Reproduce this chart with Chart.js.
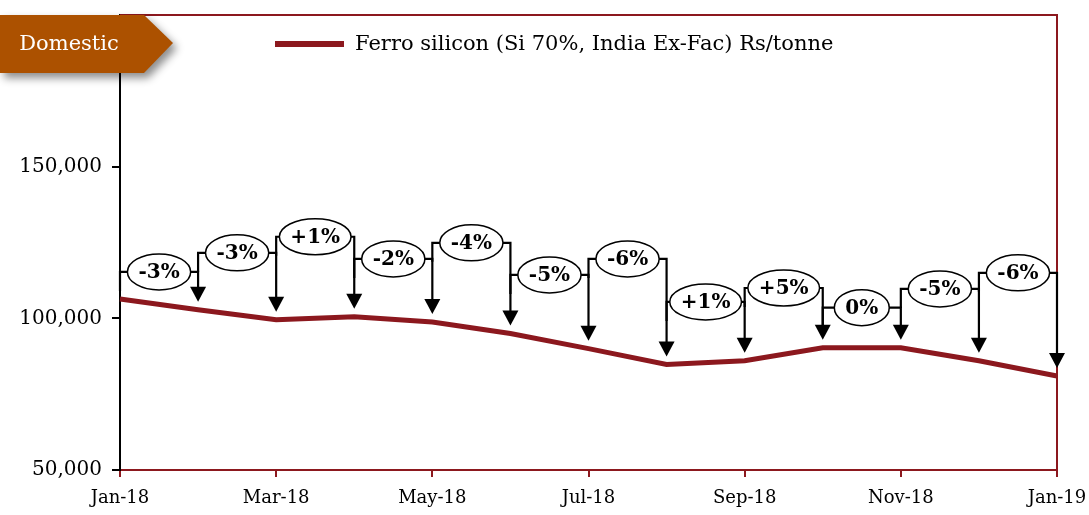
<!DOCTYPE html>
<html>
<head>
<meta charset="utf-8">
<script src="https://cdn.jsdelivr.net/npm/chart.js@4"></script>
<style>
  body { margin: 0; background: #fff; }
  #wrap { position: relative; width: 1089px; height: 515px; }
</style>
</head>
<body>
<div id="wrap"><canvas id="myChart" width="1089" height="515"></canvas></div>
<script>
// chart values
const months = ['Jan-18', 'Feb-18', 'Mar-18', 'Apr-18', 'May-18', 'Jun-18', 'Jul-18',
                'Aug-18', 'Sep-18', 'Oct-18', 'Nov-18', 'Dec-18', 'Jan-19'];
const prices = [106400, 102800, 99500, 100500, 98800, 95000, 90000,
                84800, 86000, 90300, 90300, 86000, 81000];
const changeLabels = ['-3%', '-3%', '+1%', '-2%', '-4%', '-5%', '-6%', '+1%', '+5%', '0%', '-5%', '-6%'];
// height (in Rs/tonne) of each bracket carrying the % change
const bracketLevels = [115300, 121600, 126900, 119600, 124900, 114300, 119600,
                       105400, 110000, 103500, 109700, 115000];
const yTicks = [50000, 100000, 150000];
const seriesName = 'Ferro silicon (Si 70%, India Ex-Fac) Rs/tonne';
const badgeText = 'Domestic';

const RED = 'rgb(140, 24, 30)';
const FONT = "'DejaVu Serif', 'Liberation Serif', serif";

const extras = {
  id: 'extras',
  afterDraw(chart) {
    const ctx = chart.ctx;
    const x = chart.scales.x, y = chart.scales.y;
    const area = chart.chartArea;
    ctx.save();

    // top and right frame
    ctx.strokeStyle = RED;
    ctx.lineWidth = 2;
    ctx.beginPath();
    ctx.moveTo(area.left, area.top);
    ctx.lineTo(area.right, area.top);
    ctx.lineTo(area.right, area.bottom);
    ctx.stroke();

    // brackets with arrows and % labels
    ctx.strokeStyle = '#000';
    ctx.fillStyle = '#000';
    ctx.lineWidth = 2.2;
    bracketLevels.forEach((lvl, i) => {
      const x0 = x.getPixelForValue(i);
      const x1 = x.getPixelForValue(i + 1);
      const yl = y.getPixelForValue(lvl);
      const tip = y.getPixelForValue(prices[i + 1]) - 8;
      ctx.beginPath();
      ctx.moveTo(x0, yl + 19);
      ctx.lineTo(x0, yl);
      ctx.lineTo(x1, yl);
      ctx.lineTo(x1, tip - 14);
      ctx.stroke();
      ctx.beginPath();
      ctx.moveTo(x1 - 8, tip - 15);
      ctx.lineTo(x1 + 8, tip - 15);
      ctx.lineTo(x1, tip);
      ctx.closePath();
      ctx.fill();
    });
    ctx.font = 'bold 20px ' + FONT;
    ctx.textAlign = 'center';
    ctx.textBaseline = 'middle';
    bracketLevels.forEach((lvl, i) => {
      const cx = (x.getPixelForValue(i) + x.getPixelForValue(i + 1)) / 2;
      const cy = y.getPixelForValue(lvl);
      const w = ctx.measureText(changeLabels[i]).width + 22;
      ctx.beginPath();
      ctx.ellipse(cx, cy, w / 2, 18, 0, 0, Math.PI * 2);
      ctx.fillStyle = '#fff';
      ctx.fill();
      ctx.lineWidth = 1.5;
      ctx.strokeStyle = '#000';
      ctx.stroke();
      ctx.fillStyle = '#000';
      ctx.fillText(changeLabels[i], cx, cy + 1);
    });

    // legend
    ctx.strokeStyle = RED;
    ctx.lineWidth = 6;
    ctx.beginPath();
    ctx.moveTo(275, 44);
    ctx.lineTo(344, 44);
    ctx.stroke();
    ctx.fillStyle = '#000';
    ctx.font = '21px ' + FONT;
    ctx.textAlign = 'left';
    ctx.fillText(seriesName, 355, 45);

    // badge
    ctx.shadowColor = 'rgba(0,0,0,0.45)';
    ctx.shadowBlur = 8;
    ctx.shadowOffsetX = 4;
    ctx.shadowOffsetY = 5;
    ctx.fillStyle = 'rgb(172, 81, 0)';
    ctx.beginPath();
    ctx.moveTo(0, 15);
    ctx.lineTo(144, 15);
    ctx.lineTo(173, 43);
    ctx.lineTo(144, 73);
    ctx.lineTo(0, 73);
    ctx.closePath();
    ctx.fill();
    ctx.shadowColor = 'transparent';
    ctx.fillStyle = '#fff';
    ctx.font = '21px ' + FONT;
    ctx.textAlign = 'center';
    ctx.fillText(badgeText, 69, 45);

    ctx.restore();
  }
};

const ctx = document.getElementById('myChart').getContext('2d');
const myChart = new Chart(ctx, {
  type: 'line',
  data: {
    labels: months,
    datasets: [{
      label: seriesName,
      data: prices,
      borderColor: RED,
      backgroundColor: RED,
      borderWidth: 5,
      pointRadius: 0,
      tension: 0,
      fill: false
    }]
  },
  options: {
    responsive: false,
    animation: false,
    layout: { padding: { top: 15, right: 32, left: 0, bottom: 0 } },
    plugins: {
      legend: { display: false },
      tooltip: { enabled: false }
    },
    scales: {
      x: {
        offset: false,
        grid: {
          drawOnChartArea: false,
          tickLength: 7,
          lineWidth: 2,
          color: c => (c.index % 2 === 0 ? RED : 'rgba(0,0,0,0)')
        },
        border: { color: RED, width: 2 },
        ticks: {
          autoSkip: false,
          maxRotation: 0,
          padding: 11,
          color: '#000',
          font: { family: FONT, size: 18 },
          callback: function (v, i) { return i % 2 === 0 ? months[i] : ''; }
        },
        afterFit: s => { s.height = 45; s.paddingLeft = 0; s.paddingRight = 0; }
      },
      y: {
        min: 50000,
        max: 200000,
        afterBuildTicks: s => { s.ticks = yTicks.map(v => ({ value: v })); },
        grid: { drawOnChartArea: false, tickLength: 8, color: '#000', lineWidth: 2 },
        border: { color: '#000', width: 2 },
        ticks: {
          padding: 10,
          color: '#000',
          font: { family: FONT, size: 20 },
          callback: v => v.toLocaleString('en-US')
        },
        afterFit: s => { s.width = 120; s.paddingTop = 0; s.paddingBottom = 0; }
      }
    }
  },
  plugins: [extras]
});
</script>
</body>
</html>
